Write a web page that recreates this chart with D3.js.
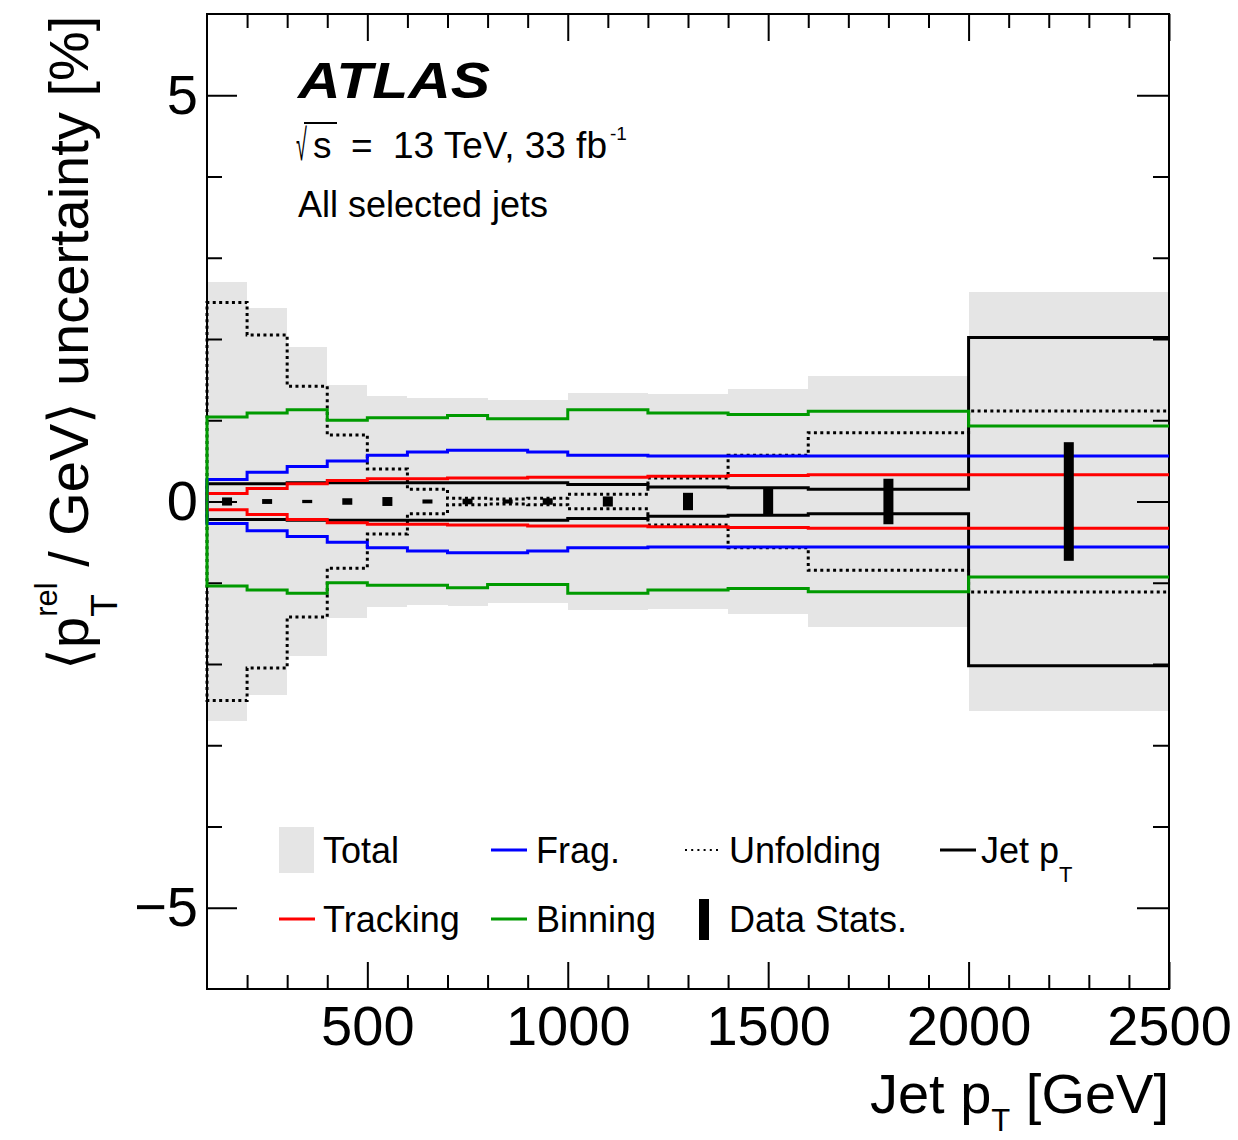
<!DOCTYPE html>
<html>
<head>
<meta charset="utf-8">
<script src="https://cdn.jsdelivr.net/npm/d3@7"></script>
<style>
  body { margin: 0; background: #ffffff; }
  svg text { font-family: "Liberation Sans", Arial, Helvetica, sans-serif; fill: #000; }
</style>
</head>
<body>
<svg id="chart" width="1238" height="1140"></svg>
<script>
// Jet pT bin edges [GeV]
const binEdges = [100, 200, 300, 400, 500, 600, 700, 800, 900, 1000, 1200, 1400, 1600, 2000, 2500];
// Bin centres for the data-statistics bars
const binCenters = [150, 250, 350, 450, 550, 650, 750, 850, 950, 1100, 1300, 1500, 1800, 2250];

// Relative uncertainties on <pT^rel / GeV> in %, symmetric (+/-)
const totalUnc     = [2.70, 2.38, 1.90, 1.43, 1.30, 1.27, 1.28, 1.25, 1.25, 1.33, 1.32, 1.39, 1.55, 2.58];
const fragUnc      = [0.27, 0.36, 0.43, 0.50, 0.57, 0.61, 0.63, 0.63, 0.61, 0.57, 0.56, 0.56, 0.56, 0.56];
const trackingUnc  = [0.10, 0.16, 0.22, 0.26, 0.28, 0.28, 0.29, 0.29, 0.30, 0.30, 0.31, 0.32, 0.33, 0.33];
const binningUnc   = [1.04, 1.09, 1.13, 1.00, 1.03, 1.03, 1.06, 1.02, 1.02, 1.13, 1.09, 1.07, 1.11, 0.93];
const unfoldingUnc = [2.45, 2.05, 1.42, 0.82, 0.40, 0.15, 0.04, 0.03, 0.04, 0.09, 0.29, 0.57, 0.845, 1.115];
const jetPtUnc     = [0.22, 0.22, 0.23, 0.23, 0.23, 0.23, 0.23, 0.23, 0.23, 0.21, 0.18, 0.17, 0.15, 2.02];
const dataStatUnc  = [0.05, 0.03, 0.02, 0.04, 0.055, 0.025, 0.035, 0.025, 0.04, 0.062, 0.107, 0.17, 0.28, 0.73];

// Axis ticks
const xMajorTicks = [500, 1000, 1500, 2000, 2500];
const xMinorTicks = [200, 300, 400, 600, 700, 800, 900, 1100, 1200, 1300, 1400, 1600, 1700, 1800, 1900, 2100, 2200, 2300, 2400];
const yMajorTicks = [-5, 0, 5];
const yMinorTicks = [-4, -3, -2, -1, 1, 2, 3, 4];

// Legend entries (row-major order)
const legendLabels = ["Total", "Frag.", "Unfolding", "Jet p", "Tracking", "Binning", "Data Stats."];
const legendKinds  = ["box", "frag", "unfold", "jet", "track", "bin", "stat"];

const colors = {
  total: "#e5e5e5",
  frag: "#0000ff",
  track: "#ff0000",
  bin: "#009a00",
  jet: "#000000",
  unfold: "#000000"
};

const svg = d3.select("#chart");
const W = 1238, H = 1140;
const plot = { left: 207, right: 1169, top: 14, bottom: 989 };

const x = d3.scaleLinear().domain([100, 2500]).range([plot.left, plot.right]);
const y = d3.scaleLinear().domain([-6, 6]).range([plot.bottom, plot.top]);

svg.append("rect").attr("width", W).attr("height", H).attr("fill", "#fff");

// ---- Total uncertainty band ----
svg.append("g").selectAll("rect")
  .data(totalUnc)
  .join("rect")
  .attr("x", (d, i) => x(binEdges[i]))
  .attr("width", (d, i) => x(binEdges[i + 1]) - x(binEdges[i]))
  .attr("y", d => y(d))
  .attr("height", d => y(-d) - y(d))
  .attr("fill", colors.total)
  .attr("shape-rendering", "crispEdges");

// ---- Frame and ticks ----
function styleAxis(g) {
  g.select(".domain").remove();
  g.selectAll(".tick line").attr("stroke", "#000").attr("stroke-width", 2);
  g.attr("font-family", null).attr("font-size", 56);
  g.selectAll("text").attr("fill", "#000");
}

svg.append("g").attr("transform", `translate(0,${plot.bottom})`)
  .call(d3.axisBottom(x).tickValues(xMajorTicks).tickSize(-27).tickPadding(16).tickFormat(d3.format("d")))
  .call(styleAxis);
svg.append("g").attr("transform", `translate(0,${plot.bottom})`)
  .call(d3.axisBottom(x).tickValues(xMinorTicks).tickSize(-14).tickFormat(""))
  .call(styleAxis);
svg.append("g").attr("transform", `translate(0,${plot.top})`)
  .call(d3.axisTop(x).tickValues(xMajorTicks).tickSize(-27).tickFormat(""))
  .call(styleAxis);
svg.append("g").attr("transform", `translate(0,${plot.top})`)
  .call(d3.axisTop(x).tickValues(xMinorTicks).tickSize(-14).tickFormat(""))
  .call(styleAxis);

svg.append("g").attr("transform", `translate(${plot.left},0)`)
  .call(d3.axisLeft(y).tickValues(yMajorTicks).tickSize(-30).tickPadding(9).tickFormat(d3.format("d")))
  .call(styleAxis);
svg.append("g").attr("transform", `translate(${plot.left},0)`)
  .call(d3.axisLeft(y).tickValues(yMinorTicks).tickSize(-15).tickFormat(""))
  .call(styleAxis);
svg.append("g").attr("transform", `translate(${plot.right},0)`)
  .call(d3.axisRight(y).tickValues(yMajorTicks).tickSize(-32).tickFormat(""))
  .call(styleAxis);
svg.append("g").attr("transform", `translate(${plot.right},0)`)
  .call(d3.axisRight(y).tickValues(yMinorTicks).tickSize(-16).tickFormat(""))
  .call(styleAxis);

svg.append("rect")
  .attr("x", plot.left).attr("y", plot.top)
  .attr("width", plot.right - plot.left).attr("height", plot.bottom - plot.top)
  .attr("fill", "none").attr("stroke", "#000").attr("stroke-width", 2);

// ---- Step histograms (upper and lower envelopes) ----
const line = d3.line().x(d => x(d[0])).y(d => y(d[1]));
function stepPoints(vals, sign) {
  const pts = [[binEdges[0], 0]];
  vals.forEach((v, i) => {
    pts.push([binEdges[i], sign * v]);
    pts.push([binEdges[i + 1], sign * v]);
  });
  return pts;
}
function drawStep(vals, color, width, dash) {
  [1, -1].forEach(sign => {
    svg.append("path")
      .attr("d", line(stepPoints(vals, sign)))
      .attr("fill", "none")
      .attr("stroke", color)
      .attr("stroke-width", width)
      .attr("stroke-dasharray", dash || null)
      .attr("stroke-linejoin", "miter");
  });
}

drawStep(jetPtUnc, colors.jet, 3);
drawStep(unfoldingUnc, colors.unfold, 3, "3,3.4");
drawStep(trackingUnc, colors.track, 3);
drawStep(fragUnc, colors.frag, 3);
drawStep(binningUnc, colors.bin, 3);

// ---- Data statistical uncertainty bars ----
svg.append("g").selectAll("rect")
  .data(dataStatUnc)
  .join("rect")
  .attr("x", (d, i) => x(binCenters[i]) - 5)
  .attr("width", 10)
  .attr("y", d => y(d))
  .attr("height", d => y(-d) - y(d))
  .attr("fill", "#000");

// ---- Axis titles ----
function textWidth(str, size, weight) {
  const t = svg.append("text").attr("font-size", size).attr("font-weight", weight || null).text(str);
  const w = t.node().getComputedTextLength();
  t.remove();
  return w;
}

// x title: Jet p_T [GeV]
const xt = svg.append("text")
  .attr("x", plot.right).attr("y", 1113)
  .attr("text-anchor", "end").attr("font-size", 56);
xt.append("tspan").text("Jet p");
xt.append("tspan").attr("font-size", 31).attr("dy", 18).text("T");
xt.append("tspan").attr("dy", -18).text(" [GeV]");

// y title: <p_T^rel / GeV> uncertainty [%]
const relW = textWidth("rel", 31);
const subW = textWidth("T", 37);
const yt = svg.append("text")
  .attr("transform", "translate(88,670) rotate(-90)")
  .attr("font-size", 56);
yt.append("tspan").text("\u27E8p");
yt.append("tspan").attr("font-size", 31).attr("dy", -31).text("rel");
yt.append("tspan").attr("font-size", 37).attr("dx", -relW).attr("dy", 31 + 29).text("T");
yt.append("tspan").attr("dx", Math.max(relW - subW, 0)).attr("dy", -29).text(" / GeV\u27E9 uncertainty [%]");

// ---- ATLAS label and annotations ----
svg.append("text")
  .attr("x", 298).attr("y", 98)
  .attr("font-size", 50).attr("font-weight", "bold").attr("font-style", "italic")
  .attr("textLength", 192).attr("lengthAdjust", "spacingAndGlyphs")
  .text("ATLAS");

svg.append("text")
  .attr("transform", "translate(296,160) scale(0.55,1.22)")
  .attr("font-size", 36).text("\u221A");
svg.append("line")
  .attr("x1", 304).attr("x2", 337).attr("y1", 123).attr("y2", 123)
  .attr("stroke", "#000").attr("stroke-width", 2);
svg.append("text").attr("x", 313).attr("y", 158).attr("font-size", 37).text("s");
svg.append("text").attr("x", 351).attr("y", 158).attr("font-size", 37).text("=");
const lumi = svg.append("text").attr("x", 393).attr("y", 158).attr("font-size", 37);
lumi.append("tspan").text("13 TeV, 33 fb");
lumi.append("tspan").attr("font-size", 19).attr("dy", -18).attr("dx", 3).text("-1");

svg.append("text").attr("x", 298).attr("y", 217).attr("font-size", 36).text("All selected jets");

// ---- Legend ----
const sampleX = [279, 491, 685, 940];
const textX = [323, 536, 729, 981];
const rowY = [850, 919];
const lg = svg.append("g");
legendLabels.forEach((label, i) => {
  const row = i < 4 ? 0 : 1;
  const col = i < 4 ? i : i - 4;
  const kind = legendKinds[i];
  const sx = sampleX[col], cy = rowY[row];
  if (kind === "box") {
    lg.append("rect").attr("x", sx).attr("y", cy - 23).attr("width", 35).attr("height", 46).attr("fill", colors.total);
  } else if (kind === "stat") {
    lg.append("rect").attr("x", sx + 14).attr("y", cy - 20).attr("width", 10).attr("height", 41).attr("fill", "#000");
  } else if (kind === "unfold") {
    lg.append("line").attr("x1", sx).attr("x2", sx + 37).attr("y1", cy).attr("y2", cy)
      .attr("stroke", "#000").attr("stroke-width", 2).attr("stroke-dasharray", "2,4.2");
  } else {
    lg.append("line").attr("x1", sx).attr("x2", sx + 36).attr("y1", cy).attr("y2", cy)
      .attr("stroke", colors[kind]).attr("stroke-width", 3);
  }
  const t = lg.append("text").attr("x", textX[col]).attr("y", cy + 13).attr("font-size", 36);
  t.append("tspan").text(label);
  if (kind === "jet") {
    t.append("tspan").attr("font-size", 22).attr("dy", 19).text("T");
  }
});
</script>
</body>
</html>
